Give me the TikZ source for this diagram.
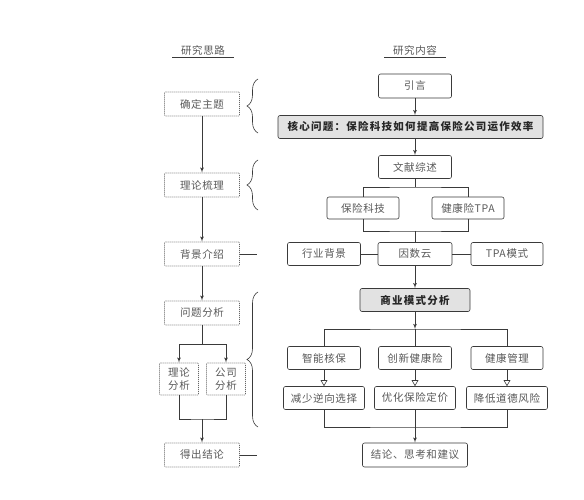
\documentclass[tikz,border=0pt]{standalone}
\usepackage{fontspec}
\setmainfont{Noto Sans CJK SC}[LetterSpace=6]
\usetikzlibrary{arrows, decorations.pathreplacing}
\definecolor{linegray}{HTML}{3A3A3A}
\definecolor{textgray}{HTML}{585858}
\definecolor{boxfill}{HTML}{E2E2E2}
\tikzstyle{box} = [rectangle, draw=linegray, semithick, rounded corners=2pt,
  text=textgray, minimum height=23pt, inner sep=2pt, font=\fontsize{10.5}{12}\selectfont]
\tikzstyle{arrow} = [draw=linegray, thick, -latex']
\begin{document}
\begin{tikzpicture}[x=1pt, y=-1pt]
                    % Define styles for boxes and lines
                    \tikzstyle{idea} = [box, draw=black!60, semithick, dash pattern=on 1pt off 1pt, rounded corners=1pt, minimum width=75pt, minimum height=24pt]
                    \tikzstyle{idea_small} = [idea, minimum width=39pt, minimum height=32pt, align=center,
                      font=\fontsize{10.5}{13}\selectfont]
                    \tikzstyle{emph_box} = [box, fill=boxfill, text=black!85, font=\fontsize{10.5}{12}\selectfont\bfseries\addfontfeature{LetterSpace=12}]
                    \tikzstyle{title} = [text=textgray, minimum width=61pt, inner sep=2pt, font=\fontsize{10.5}{12}\selectfont]
                    \tikzstyle{line} = [draw=linegray, semithick]
                    \tikzstyle{hollow} = [draw=linegray, semithick, -open triangle 60]
                    \tikzstyle{bracket} = [draw=linegray, semithick, decorate, decoration={brace, amplitude=11pt}]
                    \useasboundingbox (0,0) rectangle (584,500);

                    % Headings
                    \node [title] (idea_head) at (203,50) {研究思路};
                    \node [title] (work_head) at (415,50) {研究内容};
                    \draw [line] (idea_head.south west) -- (idea_head.south east);
                    \draw [line] (work_head.south west) -- (work_head.south east);

                    % Left column: research idea
                    \node [idea] (topic) at (202,104) {确定主题};
                    \node [idea, below of=topic, node distance=81pt] (theory) {理论梳理};
                    \node [idea, below of=theory, node distance=69pt] (background) {背景介绍};
                    \node [idea, below of=background, node distance=59pt] (problem) {问题分析};
                    \node [idea_small] (theory_ana) at (179,379) {理论\\分析};
                    \node [idea_small, right of=theory_ana, node distance=47pt] (firm_ana) {公司\\分析};
                    \node [idea, below of=problem, node distance=142pt] (result) {得出结论};

                    % Right column: research content
                    \node [box, minimum width=73pt, minimum height=24pt] (intro) at (415,86) {引言};
                    \node [emph_box, minimum width=265pt] (core) at (410.5,127) {核心问题：保险科技如何提高保险公司运作效率};
                    \node [box, minimum width=73pt] (review) at (415,167) {文献综述};
                    \node [box, minimum width=72pt, minimum height=22pt] (fintech) at (363,208) {保险科技};
                    \node [box, minimum width=72pt, minimum height=22pt, right of=fintech, node distance=105pt] (health_tpa) {健康险TPA};
                    \node [box, minimum width=74pt, below of=review, node distance=87pt] (yinshu) {因数云};
                    \node [box, minimum width=73pt, left of=yinshu, node distance=91pt] (industry) {行业背景};
                    \node [box, minimum width=72pt, right of=yinshu, node distance=92pt] (tpa_mode) {TPA模式};
                    \node [emph_box, minimum width=110pt, below of=yinshu, node distance=46pt] (model) {商业模式分析};
                    \node [box, minimum width=73pt, below of=model, node distance=58pt] (innovate) {创新健康险};
                    \node [box, minimum width=73pt, left of=innovate, node distance=91pt] (underwrite) {智能核保};
                    \node [box, minimum width=72pt, right of=innovate, node distance=92pt] (manage) {健康管理};
                    \node [box, minimum width=81pt, below of=innovate, node distance=40pt] (pricing) {优化保险定价};
                    \node [box, minimum width=81pt, left of=pricing, node distance=91pt] (selection) {减少逆向选择};
                    \node [box, minimum width=81pt, right of=pricing, node distance=92pt] (moral) {降低道德风险};
                    \node [box, minimum width=105pt, minimum height=24pt, below of=pricing, node distance=57pt] (conclusion) {结论、思考和建议};

                    % Junction points
                    \coordinate (problem_split) at (202,344);
                    \coordinate (analysis_join) at (202,419);
                    \coordinate (review_split) at (415,187);
                    \coordinate (fintech_join) at (415,231);
                    \coordinate (model_split) at (415,329);
                    \coordinate (effect_join) at (415,427);
                    \coordinate (background_end) at (257,254);
                    \coordinate (result_end) at (257,455);

                    % Draw edges, left column
                    \path [arrow] (topic) -- (theory);
                    \path [arrow] (theory) -- (background);
                    \path [arrow] (background) -- (problem);
                    \path [line] (problem) -- (problem_split);
                    \path [arrow] (problem_split) -| (theory_ana.north);
                    \path [arrow] (problem_split) -| (firm_ana.north);
                    \path [line] (theory_ana.south) |- (analysis_join) -| (firm_ana.south);
                    \path [arrow] (analysis_join) -- (result);
                    \path [line] (background) -- (background_end);
                    \path [line] (result) -- (result_end);

                    % Draw edges, right column
                    \path [arrow] (intro) -- (intro |- core.north);
                    \path [arrow] (core.south -| review) -- (review);
                    \path [line] (review) -- (review_split);
                    \path [line] (fintech.north) |- (review_split) -| (health_tpa.north);
                    \path [line] (fintech.south) |- (fintech_join) -| (health_tpa.south);
                    \path [line] (fintech_join) -- (yinshu);
                    \path [line] (industry) -- (yinshu);
                    \path [line] (yinshu) -- (tpa_mode);
                    \path [arrow] (yinshu) -- (model);
                    \path [arrow] (model) -- (model_split);
                    \path [line] (underwrite.north) |- (model_split) -| (manage.north);
                    \path [line] (model_split) -- (innovate);
                    \path [hollow] (underwrite) -- (selection);
                    \path [hollow] (innovate) -- (pricing);
                    \path [hollow] (manage) -- (moral);
                    \path [line] (selection.south) |- (effect_join) -| (moral.south);
                    \path [line] (pricing) -- (effect_join);
                    \path [arrow] (effect_join) -- (conclusion);

                    % Braces
                    \coordinate (brace_a_top) at (258,79);
                    \coordinate (brace_a_bot) at (258,133);
                    \coordinate (brace_b_top) at (258,160);
                    \coordinate (brace_b_bot) at (258,210);
                    \coordinate (brace_c_top) at (258,292);
                    \coordinate (brace_c_bot) at (258,427);
                    \draw [bracket] (brace_a_bot) -- (brace_a_top);
                    \draw [bracket] (brace_b_bot) -- (brace_b_top);
                    \draw [bracket] (brace_c_bot) -- (brace_c_top);
                \end{tikzpicture}
\end{document}
